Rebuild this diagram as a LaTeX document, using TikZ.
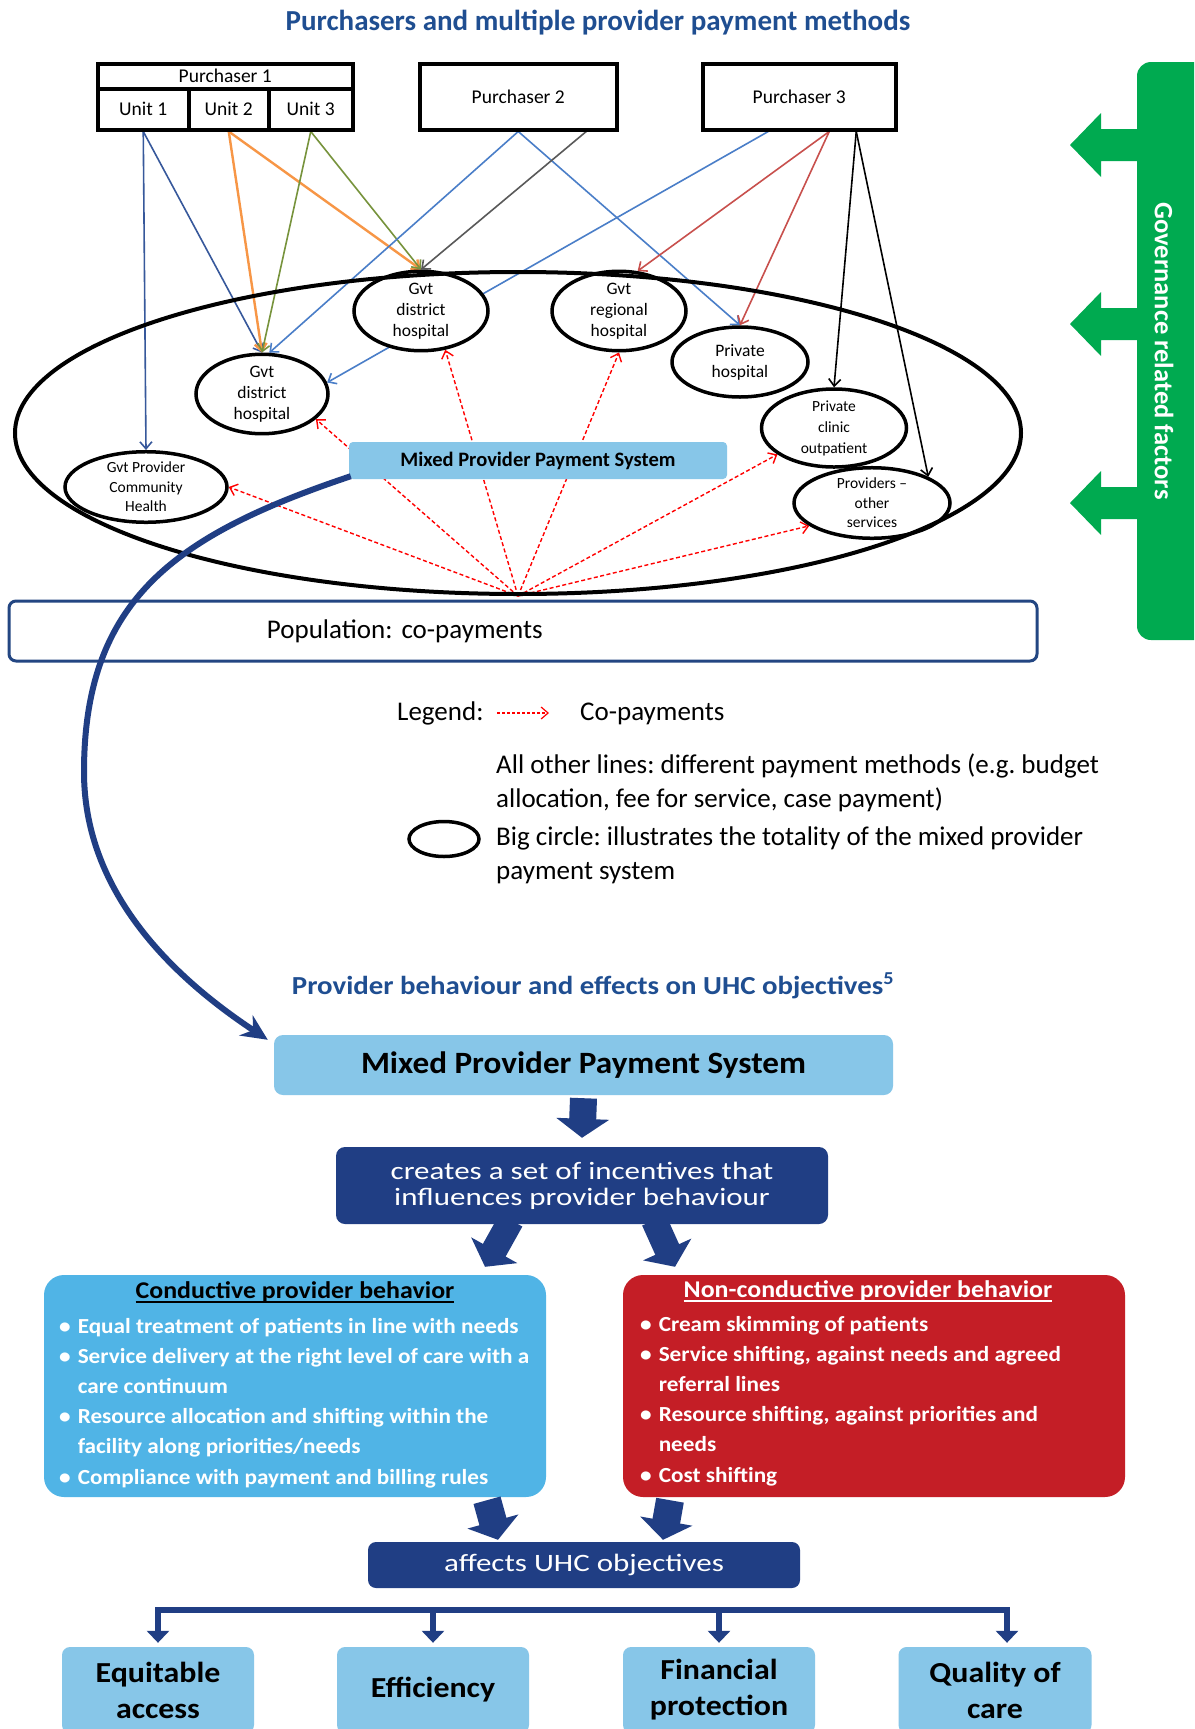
\documentclass[tikz,border=0pt]{standalone}
\usepackage{fontspec}
\setmainfont{Carlito}
\usetikzlibrary{shapes.geometric,arrows.meta,calc,backgrounds}
\frenchspacing

\definecolor{titleblue}{RGB}{31,78,145}
\definecolor{lblue}{RGB}{135,198,232}
\definecolor{cblue}{RGB}{80,180,230}
\definecolor{nred}{RGB}{196,30,38}
\definecolor{navy}{RGB}{32,62,132}
\definecolor{govgreen}{RGB}{0,170,80}
\definecolor{popblue}{RGB}{35,70,130}
\definecolor{lnA}{RGB}{55,88,155}
\definecolor{lorange}{RGB}{247,150,70}
\definecolor{lgreen}{RGB}{119,147,60}
\definecolor{lblueline}{RGB}{74,126,200}
\definecolor{lgray}{RGB}{89,89,89}
\definecolor{lred}{RGB}{200,80,77}
\definecolor{cpred}{RGB}{255,0,0}

\newcommand\myul[1]{\setbox0\hbox{#1}\rlap{\rule[-5pt]{\wd0}{2pt}}\box0}
\newcommand\fTitleA{\fontsize{29}{32}\selectfont\bfseries}
\newcommand\fTitleB{\fontsize{26}{28}\selectfont\bfseries\addfontfeatures{FakeStretch=1.11}}
\newcommand\fLeg{\fontsize{27}{33}\selectfont}
\newcommand\fPurch{\fontsize{19.5}{21}\selectfont}
\newcommand\fEll{\fontsize{17.5}{21}\selectfont}
\newcommand\fEllS{\fontsize{15.5}{19.5}\selectfont}
\newcommand\fMpsA{\fontsize{20.5}{22}\selectfont\bfseries}
\newcommand\fMpsB{\fontsize{31}{34}\selectfont\bfseries\addfontfeatures{FakeStretch=1.07}}
\newcommand\fNavy{\fontsize{25}{26}\selectfont\addfontfeatures{FakeStretch=1.24}}
\newcommand\fBoxT{\fontsize{24}{26}\selectfont\bfseries\addfontfeatures{FakeStretch=1.08}}
\newcommand\fBul{\fontsize{21.5}{30.2}\selectfont\bfseries\addfontfeatures{FakeStretch=1.08}}
\newcommand\fObj{\fontsize{29}{36}\selectfont\bfseries\addfontfeatures{FakeStretch=1.1}}
\newcommand\fGov{\fontsize{26.5}{28}\selectfont\bfseries}

\begin{document}
\begin{tikzpicture}[x=1pt,y=-1pt,
  txt/.style={inner sep=0pt},
  pbox/.style={draw, line width=3.5pt, inner sep=0pt, font=\fPurch},
  ell/.style={ellipse, draw, line width=3.5pt, fill=white, inner sep=0pt, align=center, font=\fEll},
  pay/.style={line width=1.6pt, -{Straight Barb[length=7pt,width=12pt]}},
  copay/.style={draw=cpred, line width=1.4pt, dash pattern=on 4pt off 2.5pt, -{Straight Barb[length=7pt,width=12pt]}},
  navybox/.style={fill=navy, rounded corners=9pt, inner sep=0pt, text=white, align=center, font=\fNavy},
  lbbox/.style={fill=lblue, rounded corners=9pt, inner sep=0pt, align=center},
  blockarrow/.style={draw=navy, line width=27pt, -{Triangle[length=19pt,width=52pt]}},
  drop/.style={draw=navy, line width=6pt, -{Triangle[length=12pt,width=22pt]}},
  bar/.style={draw=navy, line width=6pt, line cap=rect},
]
\useasboundingbox (0,0) rectangle (1194,1729);

% ---------- top title ----------
\node[txt, anchor=base, font=\fTitleA, text=titleblue] (title1) at (598,30) {Purchasers and multiple provider payment methods};

% ---------- purchasers ----------
\node[pbox, minimum width=255, minimum height=25, anchor=north west] (p1) at (96,62) {Purchaser 1};
\node[pbox, minimum width=91, minimum height=41, anchor=north west] (u1) at (96,87) {Unit 1};
\node[pbox, minimum width=80, minimum height=41, anchor=north west] (u2) at (187,87) {Unit 2};
\node[pbox, minimum width=84, minimum height=41, anchor=north west] (u3) at (267,87) {Unit 3};
\node[pbox, minimum width=197, minimum height=66, anchor=north west] (p2) at (418,62) {Purchaser 2};
\node[pbox, minimum width=193, minimum height=66, anchor=north west] (p3) at (701,62) {Purchaser 3};

% ---------- providers ----------
\node[ell, minimum width=134, minimum height=68] (gdh1) at (421,311) {Gvt\\district\\hospital};
\node[ell, minimum width=132, minimum height=66] (gdh2) at (262,394) {Gvt\\district\\hospital};
\node[ell, minimum width=162, minimum height=66, font=\fEllS] (gpch) at (146,487) {Gvt Provider\\Community\\Health};
\node[ell, minimum width=134, minimum height=72] (grh) at (619,311) {Gvt\\regional\\hospital};
\node[ell, minimum width=136, minimum height=70] (ph) at (740,362) {Private\\hospital};
\node[ell, minimum width=145, minimum height=69, font=\fontsize{15.5}{21}\selectfont] (pco) at (834,428) {Private\\clinic\\outpatient};
\node[ell, minimum width=156, minimum height=60, font=\fEllS] (pos) at (872,503) {Providers --\\other\\services};

\node[ellipse, draw, line width=4pt, minimum width=1006, minimum height=322, inner sep=0pt] (big) at (518,433) {};

\begin{scope}[on background layer]
\fill[white] (0,0) rectangle (1194,1729);
\draw[pay, lnA] (u1.south) -- (gpch.north);
\draw[pay, lnA] (u1.south) -- (gdh2.north);
\draw[pay, lorange, line width=2.4pt] (u2.south) -- (gdh2.north);
\draw[pay, lorange, line width=2.4pt] (u2.south) -- (gdh1.north);
\draw[pay, lgreen] (u3.south) -- (gdh2.north);
\draw[pay, lgreen] (u3.south) -- (gdh1.north);
\draw[pay, lblueline] (p2.south) -- (gdh2.80);
\draw[pay, lblueline] (p2.south) -- (ph.north);
\draw[pay, lgray] ($(p2.south)+(68,0)$) -- (gdh1.north);
\draw[pay, lblueline] ($(p3.south)+(-31,0)$) -- (gdh2.10);
\draw[pay, lred] ($(p3.south)+(30,0)$) -- (grh.65);
\draw[pay, lred] ($(p3.south)+(30,0)$) -- (ph.north);
\draw[pay] ($(p3.south)+(57,0)$) -- (pco.north);
\draw[pay] ($(p3.south)+(57,0)$) -- (pos.25);
\draw[copay] (big.south) -- (gpch.east);
\draw[copay] (big.south) -- (gdh2.-25);
\draw[copay] (big.south) -- (gdh1.-58);
\draw[copay] (big.south) -- (grh.south);
\draw[copay] (big.south) -- (pco.-155);
\draw[copay] (big.south) -- (pos.-160);
\end{scope}

\node[fill=lblue, rounded corners=4pt, minimum width=378, minimum height=37, inner sep=0pt, font=\fMpsA] (mps1) at (538,460.5) {Mixed Provider Payment System};

% ---------- population ----------
\node[draw=popblue, line width=3pt, rounded corners=7pt, minimum height=60, text width=1028, inner sep=0pt, align=left, font=\fLeg] (pop) at (523,631) {\hspace*{258pt}\mbox{Population:\ co-payments}};

% ---------- governance ----------
\begin{scope}
\clip (0,0) rectangle (1194,1729);
\fill[govgreen, rounded corners=14pt] (1137,62) rectangle (1240,640);
\end{scope}
\foreach \yy in {145,324,503} {
  \fill[govgreen] (1140,\yy-16) -- (1101,\yy-16) -- (1101,\yy-32) -- (1070,\yy) -- (1101,\yy+32) -- (1101,\yy+16) -- (1140,\yy+16) -- cycle;
}
\node[txt, rotate=-90, font=\fGov, text=white] (govT) at (1164,351) {Governance related factors};

% ---------- legend ----------
\node[txt, anchor=base west, font=\fLeg] (legT) at (397,720) {Legend:};
\coordinate (legA) at (497,713);
\coordinate (legB) at (549,713);
\draw[copay, line width=1.2pt, dash pattern=on 3pt off 2pt] (legA) -- (legB);
\node[txt, anchor=base west, font=\fLeg] (legC) at (580,720) {Co-payments};
\node[txt, anchor=base west, font=\fLeg] (legO1) at (496,773) {All other lines: different payment methods (e.g. budget};
\node[txt, anchor=base west, font=\fLeg] (legO2) at (496,807) {allocation, fee for service, case payment)};
\node[ellipse, draw, line width=3.5pt, minimum width=70, minimum height=35, inner sep=0pt] (legE) at (444,839) {};
\node[txt, anchor=base west, font=\fLeg] (legB1) at (496,845) {Big circle: illustrates the totality of the mixed provider};
\node[txt, anchor=base west, font=\fLeg] (legB2) at (496,879) {payment system};

% ---------- lower section ----------
\node[txt, anchor=base, font=\fTitleB, text=titleblue] (title2) at (593,994) {Provider behaviour and effects on UHC objectives\textsuperscript{5}};

\node[lbbox, minimum width=619, minimum height=60, font=\fMpsB] (mps2) at (583.5,1065) {Mixed Provider Payment System};
\node[navybox, minimum width=492, minimum height=77] (creates) at (582,1185.5) {creates a set of incentives that\\influences provider behaviour};

\node[fill=cblue, rounded corners=20pt, minimum width=502, minimum height=222, inner sep=0pt] (cond) at (295,1386) {};
\node[fill=nred, rounded corners=20pt, minimum width=502, minimum height=222, inner sep=0pt] (ncond) at (874,1386) {};

\node[txt, anchor=base, font=\fBoxT] (condT) at (295,1298) {\myul{Conductive provider behavior}};
\node[txt, anchor=base, font=\fBoxT, text=white] (ncondT) at (868,1297) {\myul{Non-conductive provider behavior}};

\node[txt, anchor=base west, font=\fBul, text=white] (condL) at (59,1333) {\begin{tabular}[t]{@{}l@{\hspace{7pt}}l@{}}
\textbullet & Equal treatment of patients in line with needs\\
\textbullet & Service delivery at the right level of care with a\\
 & care continuum\\
\textbullet & Resource allocation and shifting within the\\
 & facility along priorities/needs\\
\textbullet & Compliance with payment and billing rules
\end{tabular}};
\node[txt, anchor=base west, font=\fBul, text=white] (ncondL) at (640,1331) {\begin{tabular}[t]{@{}l@{\hspace{7pt}}l@{}}
\textbullet & Cream skimming of patients\\
\textbullet & Service shifting, against needs and agreed\\
 & referral lines\\
\textbullet & Resource shifting, against priorities and\\
 & needs\\
\textbullet & Cost shifting
\end{tabular}};

\node[navybox, minimum width=432, minimum height=46, rounded corners=8pt] (affects) at (584,1565) {affects UHC objectives};

\draw[blockarrow] ($(mps2.south)+(0,3)$) -- ($(creates.north)+(0,-9)$);
\draw[blockarrow, line width=26pt] ($(creates.south)+(-71,-4)$) -- ($(cond.north)+(190,-8)$);
\draw[blockarrow, line width=26pt] ($(creates.south)+(72,-4)$) -- ($(ncond.north)+(-199,-8)$);
\draw[blockarrow, line width=28pt] ($(cond.south)+(192,3)$) -- ($(affects.north)+(-86,-2)$);
\draw[blockarrow, line width=28pt] ($(ncond.south)+(-204,3)$) -- ($(affects.north)+(79,-2)$);

% ---------- objectives ----------
\begin{scope}
\clip (0,0) rectangle (1194,1729);
\node[lbbox, rounded corners=8pt, minimum width=192, minimum height=86, font=\fObj] (equ) at (158,1690) {Equitable\\access};
\node[lbbox, rounded corners=8pt, minimum width=192, minimum height=86, font=\fObj] (eff) at (433,1690) {Efficiency};
\node[lbbox, rounded corners=8pt, minimum width=192, minimum height=86, font=\fObj] (fin) at (719,1690) {Financial\\protection};
\node[lbbox, rounded corners=8pt, minimum width=193, minimum height=86, font=\fObj] (qual) at (995,1690) {Quality of\\care};
\end{scope}

\coordinate (barA) at (158,1610);
\coordinate (barD) at (1007,1610);
\draw[bar] (barA) -- (barD);
\draw[drop, shorten >=4pt] (barA) -- (equ.north);
\draw[drop, shorten >=4pt] (eff.north |- barA) -- (eff.north);
\draw[drop, shorten >=4pt] (fin.north |- barA) -- (fin.north);
\draw[drop, shorten >=4pt] (barD) -- (qual.north -| barD);

% ---------- big curved arrow ----------
\draw[navy, line width=6pt, -{Stealth[length=26pt,width=24pt]}]
  ($(mps1.south west)+(2,-3)$) .. controls (175,535) and (84,600) .. (84,772)
  .. controls (84,900) and (185,985) .. ($(mps2.north west)+(-6,5)$);

\end{tikzpicture}
\end{document}
